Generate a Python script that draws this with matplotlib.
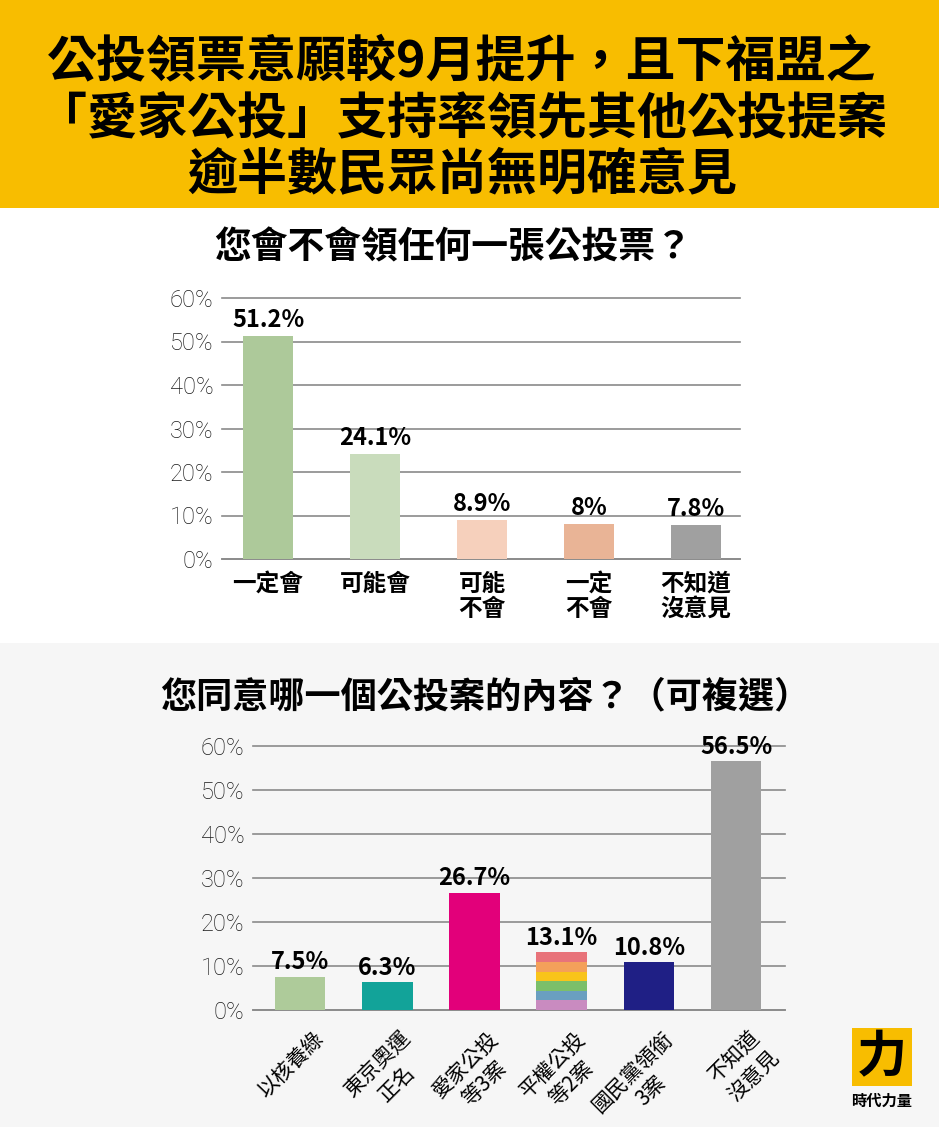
"""公投領票意願 + 公投案支持度，兩張長條圖合成一張圖卡"""
import matplotlib
matplotlib.use('Agg')
import matplotlib.pyplot as plt
from matplotlib.patches import Rectangle
from matplotlib.transforms import ScaledTranslation

plt.rcParams['font.family'] = ['Noto Sans CJK TC', 'DejaVu Sans']

# 上圖：您會不會領任何一張公投票
q1_cats = ['一定會', '可能會', '可能\n不會', '一定\n不會', '不知道\n沒意見']
q1_vals = [51.2, 24.1, 8.9, 8.0, 7.8]
q1_labels = ['51.2%', '24.1%', '8.9%', '8%', '7.8%']
q1_colors = ['#adc99a', '#c9dcbc', '#f6d0bc', '#e9b496', '#a0a0a0']

# 下圖：您同意哪一個公投案的內容（可複選）
q2_cats = ['以核養綠', '東京奧運\n正名', '愛家公投\n等3案', '平權公投\n等2案', '國民黨領銜\n3案', '不知道\n沒意見']
q2_vals = [7.5, 6.3, 26.7, 13.1, 10.8, 56.5]
q2_labels = ['7.5%', '6.3%', '26.7%', '13.1%', '10.8%', '56.5%']
q2_colors = ['#aecb9a', '#12a399', '#e2007a', None, '#1f1f85', '#a0a0a0']
rainbow = ['#e8737a', '#f4a05a', '#f9c41a', '#7bbf6a', '#6a9fc0', '#c98bc0']  # 由上到下

yticks = [0, 10, 20, 30, 40, 50, 60]
ytick_labels = ['0%', '10%', '20%', '30%', '40%', '50%', '60%']

W, H = 939, 1127
fig = plt.figure(figsize=(W / 100, H / 100), dpi=100)
fig.patch.set_facecolor('white')

YELLOW = '#f8bd00'
fig.patches.append(Rectangle((0, 1 - 208 / H), 1, 208 / H, transform=fig.transFigure,
                             facecolor=YELLOW, edgecolor='none', zorder=-10))
fig.patches.append(Rectangle((0, 0), 1, (H - 643) / H, transform=fig.transFigure,
                             facecolor='#f6f6f6', edgecolor='none', zorder=-10))

head = ['公投領票意願較9月提升，且下福盟之',
        '「愛家公投」支持率領先其他公投提案',
        '逾半數民眾尚無明確意見']
for txt, y in zip(head, [62, 120, 175]):
    fig.text(0.492, 1 - y / H, txt, ha='center', va='center', fontsize=36,
             fontweight='black', color='black')

fig.text(453 / W, 1 - 248 / H, '您會不會領任何一張公投票？', ha='center', va='center',
         fontsize=26.5, fontweight='bold')
fig.text(485 / W, 1 - 697 / H, '您同意哪一個公投案的內容？（可複選）', ha='center', va='center',
         fontsize=26, fontweight='bold')


def style(ax):
    ax.set_facecolor('none')
    ax.set_ylim(0, 60)
    ax.set_yticks(yticks)
    ax.set_yticklabels(ytick_labels, family=['Roboto', 'DejaVu Sans'], fontweight='light',
                       fontsize=17, color='#1a1a1a')
    ax.tick_params(axis='y', length=0, pad=6)
    ax.tick_params(axis='x', length=0)
    ax.grid(axis='y', color='#8a8a8a', lw=1.2, zorder=0)
    ax.set_axisbelow(True)
    for s in ['top', 'right', 'left']:
        ax.spines[s].set_visible(False)
    ax.spines['bottom'].set_color('#8a8a8a')
    ax.spines['bottom'].set_linewidth(1.2)
    for g in ax.get_ygridlines():
        g.set_clip_on(False)


# 上圖
ax1 = fig.add_axes([222 / W, (H - 559) / H, 518 / W, 261 / H])
x1 = range(len(q1_vals))
ax1.bar(x1, q1_vals, width=0.47, color=q1_colors, zorder=3)
ax1.set_xlim(-0.43, 4.41)
style(ax1)
ax1.set_xticks(list(x1))
ax1.set_xticklabels(q1_cats, fontsize=17, fontweight='bold', linespacing=1.08, va='top')
ax1.tick_params(axis='x', pad=9)
for i, (v, lab) in enumerate(zip(q1_vals, q1_labels)):
    ax1.annotate(lab, (i, v), xytext=(0, 3), textcoords='offset points', ha='center',
                 va='bottom', fontsize=17, fontweight='bold', zorder=4)

# 下圖
ax2 = fig.add_axes([253 / W, (H - 1010) / H, 532 / W, 264 / H])
x2 = list(range(len(q2_vals)))
w2 = 0.58
for i, (v, c) in enumerate(zip(q2_vals, q2_colors)):
    if c is None:
        seg = v / len(rainbow)
        for k, rc in enumerate(reversed(rainbow)):
            ax2.bar(i, seg, bottom=seg * k, width=w2, color=rc, zorder=3)
    else:
        ax2.bar(i, v, width=w2, color=c, zorder=3)
ax2.set_xlim(-0.54, 5.56)
style(ax2)
ax2.set_xticks(x2)
ax2.set_xticklabels(q2_cats, fontsize=15, rotation=45, ha='right', va='top',
                    rotation_mode='anchor', multialignment='center', linespacing=1.3)
off = ScaledTranslation(9 / 72, -9 / 72, fig.dpi_scale_trans)
for t in ax2.get_xticklabels():
    t.set_transform(t.get_transform() + off)
for i, (v, lab) in enumerate(zip(q2_vals, q2_labels)):
    ax2.annotate(lab, (i, v), xytext=(0, 2), textcoords='offset points', ha='center',
                 va='bottom', fontsize=17, fontweight='bold', zorder=4)

# 時代力量 logo
lg = fig.add_axes([852 / W, (H - 1086) / H, 60 / W, 58 / H])
lg.set_facecolor(YELLOW)
lg.set_xticks([]); lg.set_yticks([])
for s in lg.spines.values():
    s.set_visible(False)
lg.text(0.5, 0.48, '力', transform=lg.transAxes, ha='center', va='center', fontsize=36,
        fontweight='black', color='black')
fig.text(882 / W, 1 - 1101 / H, '時代力量', ha='center', va='center', fontsize=11,
         fontweight='bold')

fig.savefig('out.png', dpi=100, facecolor=fig.get_facecolor())
